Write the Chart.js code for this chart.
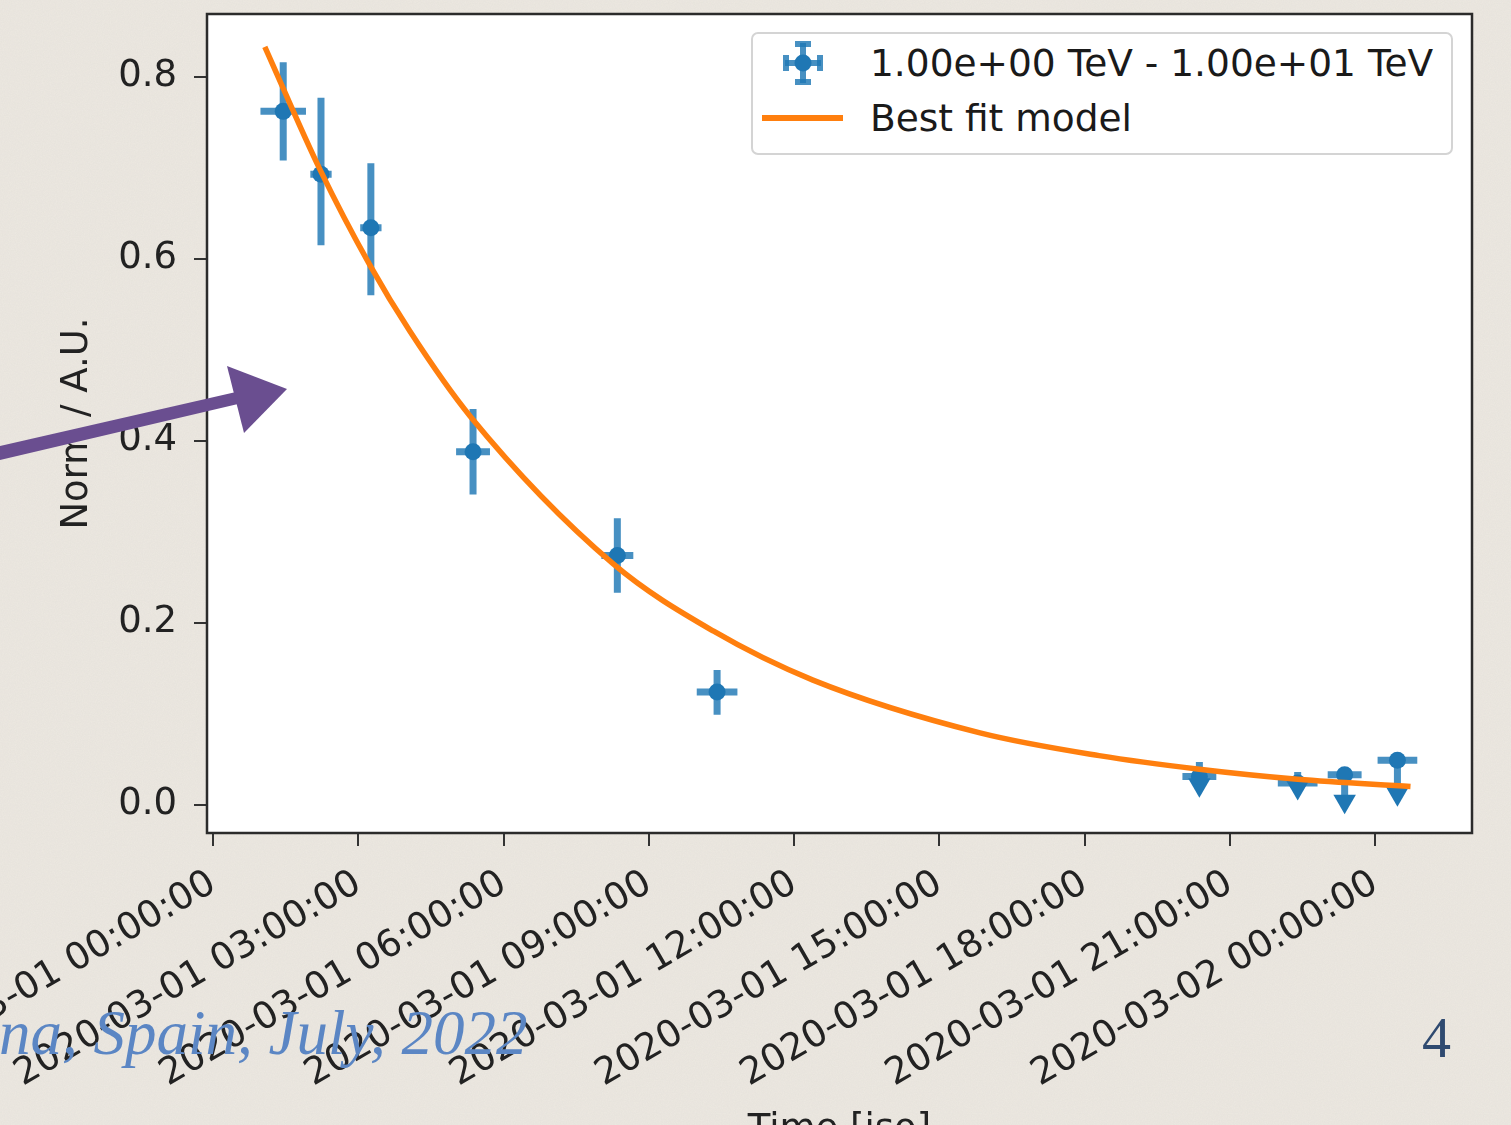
<!DOCTYPE html>
<html>
<head>
<meta charset="utf-8">
<title>Light curve</title>
<script src="https://cdn.jsdelivr.net/npm/chart.js@4.4.1/dist/chart.umd.min.js"></script>
<style>
    html, body { margin: 0; padding: 0; width: 1511px; height: 1125px; overflow: hidden; }
    body { background-color: #ece8e1;
           background-image: url("data:image/svg+xml;utf8,<svg xmlns='http://www.w3.org/2000/svg' width='256' height='256'><filter id='n'><feTurbulence type='fractalNoise' baseFrequency='0.85' numOctaves='2' stitchTiles='stitch'/><feColorMatrix values='0 0 0 0 0.45 0 0 0 0 0.42 0 0 0 0 0.38 0 0 0 0.10 0'/></filter><rect width='100%' height='100%' filter='url(%23n)'/></svg>"); }
    #wrap { position: absolute; left: 0; top: 0; width: 1511px; height: 1170px; }
    #legend { position: absolute; left: 751px; top: 32px; width: 702px; height: 123px; background: #fff;
              border: 2px solid #d4d4d4; border-radius: 7px; box-sizing: border-box; z-index: 2;
              font-family: "DejaVu Sans", sans-serif; font-size: 37.5px; color: #1a1a1a; }
    #legend .txt { position: absolute; left: 117px; line-height: 44px; white-space: nowrap; }
    #legend svg { position: absolute; left: 0; top: 0; }
    #venue { position: absolute; left: -1px; top: 997px; z-index: 3; font-family: "Liberation Serif", serif;
             font-style: italic; font-size: 63px; color: #5b86c4; white-space: nowrap; }
    #page { position: absolute; left: 1422px; top: 1004px; z-index: 3; font-family: "Liberation Serif", serif;
            font-size: 58px; color: #2f4a70; }
    #arrow { position: absolute; left: 0; top: 0; z-index: 3; }
</style>
</head>
<body>
<div id="wrap"><canvas id="lcChart"></canvas></div>
<div id="legend"></div>
<div id="venue">na, Spain, July, 2022</div>
<div id="page">4</div>
<svg id="arrow" width="320" height="480">
    <path d="M0 446 L236 392 L238 404 L0 460 Z" fill="#6a4e90"/>
    <path d="M227 366 L287 389 L244 433 Z" fill="#6a4e90"/>
</svg>
<script>
// Axis ticks
const tickHours = [0, 3, 6, 9, 12, 15, 18, 21, 24];
const tickLabels = ['2020-03-01 00:00:00', '2020-03-01 03:00:00', '2020-03-01 06:00:00',
    '2020-03-01 09:00:00', '2020-03-01 12:00:00', '2020-03-01 15:00:00',
    '2020-03-01 18:00:00', '2020-03-01 21:00:00', '2020-03-02 00:00:00'];
const yTickValues = [0, 0.2, 0.4, 0.6, 0.8];

// Flux points (hours since 2020-03-01 00:00)
const obsTime = [1.45, 2.23, 3.26, 5.37, 8.35, 10.41, 20.37, 22.40, 23.37, 24.46];
const obsNorm = [0.762, 0.693, 0.634, 0.388, 0.274, 0.124, 0.031, 0.024, 0.033, 0.049];
const normLow = [0.708, 0.615, 0.560, 0.341, 0.233, 0.099, 0.022, 0.019, 0.004, 0.012];
const normHigh = [0.816, 0.777, 0.705, 0.435, 0.315, 0.148, 0.047, 0.036, 0.033, 0.049];
const timeErr = [0.47, 0.22, 0.22, 0.35, 0.33, 0.42, 0.35, 0.41, 0.35, 0.41];
const upperLimit = [false, false, false, false, false, false, true, true, true, true];

// Best fit model
const fitTime = [1.07, 2.21, 3.24, 4.07, 5.31, 8.26, 10.33, 12.39, 15.84, 18.3, 20.37, 22.4, 24.73];
const fitNorm = [0.833, 0.698, 0.593, 0.520, 0.427, 0.265, 0.191, 0.137, 0.079, 0.054, 0.039, 0.028, 0.020];

const pointsLabel = '1.00e+00 TeV - 1.00e+01 TeV';
const fitLabel = 'Best fit model';

const blue = '#1f77b4';
const blueBar = 'rgba(31, 119, 180, 0.82)';
const orange = '#ff7f0e';
const font = { family: 'DejaVu Sans', size: 37 };

// Build error bar segments (null breaks the line between bars)
const vErr = [], hErr = [], markers = [], arrows = [];
obsTime.forEach((t, i) => {
    vErr.push({ x: t, y: normLow[i] }, { x: t, y: normHigh[i] }, { x: t, y: null });
    hErr.push({ x: t - timeErr[i], y: obsNorm[i] }, { x: t + timeErr[i], y: obsNorm[i] }, { x: t, y: null });
    markers.push({ x: t, y: obsNorm[i] });
    if (upperLimit[i]) arrows.push({ x: t, y: normLow[i] });
});

// White axes background and frame like matplotlib
const framePlugin = {
    id: 'frame',
    beforeDraw(chart) {
        const { ctx, chartArea: a } = chart;
        ctx.save();
        ctx.fillStyle = '#ffffff';
        ctx.fillRect(a.left, a.top, a.width, a.height);
        ctx.restore();
    },
    afterDraw(chart) {
        const { ctx, chartArea: a } = chart;
        ctx.save();
        ctx.strokeStyle = '#2b2b2b';
        ctx.lineWidth = 2.5;
        ctx.strokeRect(a.left, a.top, a.width, a.height);
        ctx.restore();
    }
};

new Chart(document.getElementById('lcChart'), {
    type: 'line',
    data: {
        datasets: [
            { label: fitLabel, data: fitTime.map((t, i) => ({ x: t, y: fitNorm[i] })), borderColor: orange,
              borderWidth: 5.5, pointRadius: 0, cubicInterpolationMode: 'monotone', order: 0 },
            { label: pointsLabel, data: markers, showLine: false, pointRadius: 8.5,
              pointBackgroundColor: blue, pointBorderWidth: 0, order: 1 },
            { label: 'ul', data: arrows, showLine: false, pointStyle: 'triangle', rotation: 180,
              pointRadius: 13, pointBackgroundColor: blue, pointBorderWidth: 0, order: 2 },
            { label: 'yerr', data: vErr, borderColor: blueBar, borderWidth: 7, pointRadius: 0,
              spanGaps: false, borderCapStyle: 'butt', order: 3 },
            { label: 'xerr', data: hErr, borderColor: blueBar, borderWidth: 7, pointRadius: 0,
              spanGaps: false, borderCapStyle: 'butt', order: 3 }
        ]
    },
    options: {
        responsive: true,
        maintainAspectRatio: false,
        animation: false,
        devicePixelRatio: 1,
        layout: { padding: { left: 0, right: 39, top: 14, bottom: 0 } },
        plugins: { legend: { display: false }, tooltip: { enabled: false } },
        scales: {
            x: {
                type: 'linear',
                min: -0.124,
                max: 26.0,
                afterBuildTicks: axis => { axis.ticks = tickHours.map(v => ({ value: v })); },
                afterFit: scale => { scale.height = 337; scale.paddingLeft = 0; scale.paddingRight = 0; },
                ticks: { callback: (v, i) => tickLabels[i], minRotation: 30, maxRotation: 30, autoSkip: false,
                         font: font, color: '#222', padding: 16 },
                grid: { drawOnChartArea: false, drawTicks: true, tickLength: 13, color: '#333', lineWidth: 2 },
                border: { display: false },
                title: { display: true, text: 'Time [iso]', font: font, color: '#222', padding: { top: 0, bottom: 17 } }
            },
            y: {
                min: -0.031,
                max: 0.869,
                afterBuildTicks: axis => { axis.ticks = yTickValues.map(v => ({ value: v })); },
                afterFit: scale => { scale.width = 207; scale.paddingTop = 0; scale.paddingBottom = 0; },
                ticks: { callback: v => v.toFixed(1), font: font, color: '#222', padding: 17 },
                grid: { drawOnChartArea: false, drawTicks: true, tickLength: 13, color: '#333', lineWidth: 2 },
                border: { display: false },
                title: { display: true, text: 'Norm / A.U.', font: font, color: '#222', padding: { top: 55, bottom: 0 } }
            }
        }
    },
    plugins: [framePlugin]
});

// Legend
function buildLegend() {
    const legend = document.getElementById('legend');
    legend.innerHTML =
        '<svg width="120" height="120">' +
        '<g stroke="' + blueBar + '" stroke-width="6">' +
        '<line x1="50" y1="9" x2="50" y2="49"/><line x1="32" y1="29" x2="68" y2="29"/>' +
        '<line x1="42" y1="10" x2="58" y2="10"/><line x1="42" y1="48" x2="58" y2="48"/>' +
        '<line x1="33" y1="21" x2="33" y2="37"/><line x1="67" y1="21" x2="67" y2="37"/></g>' +
        '<circle cx="50" cy="29" r="8.5" fill="' + blue + '"/>' +
        '<line x1="9" y1="84" x2="90" y2="84" stroke="' + orange + '" stroke-width="6"/>' +
        '</svg>' +
        '<div class="txt" style="top:7px">' + pointsLabel + '</div>' +
        '<div class="txt" style="top:62px">' + fitLabel + '</div>';
}
buildLegend();
</script>
</body>
</html>
